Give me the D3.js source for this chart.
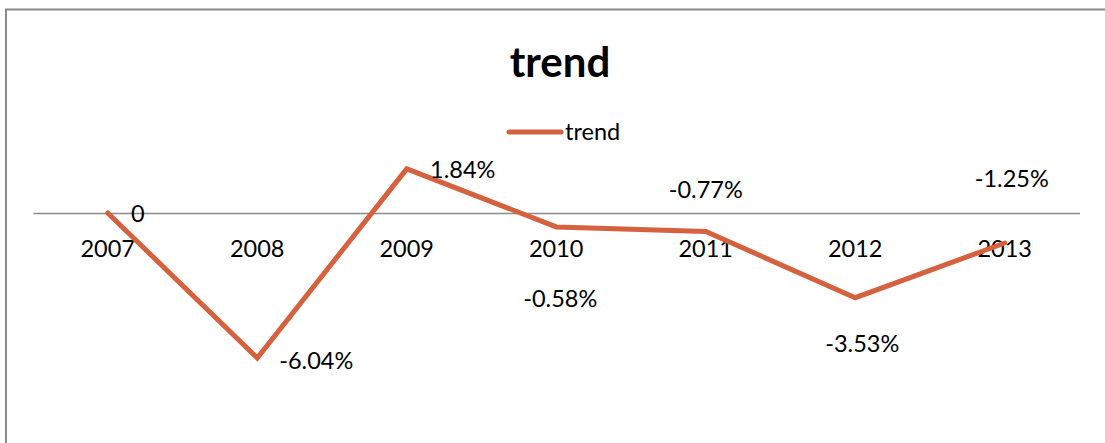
<!DOCTYPE html>
<html>
<head>
<meta charset="utf-8">
<script src="https://cdn.jsdelivr.net/npm/d3@7"></script>
<style>
  html, body { margin: 0; padding: 0; background: #fff; }
  svg { display: block; font-family: Lato, "Open Sans", sans-serif; }
</style>
</head>
<body>
<svg id="chart" width="1105" height="443"></svg>
<script>
const categories = ["2007", "2008", "2009", "2010", "2011", "2012", "2013"];
const values = [0, -6.04, 1.84, -0.58, -0.77, -3.53, -1.25];
const valueLabels = ["0", "-6.04%", "1.84%", "-0.58%", "-0.77%", "-3.53%", "-1.25%"];
const seriesName = "trend";
const chartTitle = "trend";

// label offsets (styling, relative to each point)
const labelOffsets = [[30, 1], [59, 3], [56, 1], [4, 72], [0, -42], [7, 46], [7, -64]];

const svg = d3.select("#chart");
const W = 1105, H = 443;
const color = "#D5613F";
const fs = 23.5;

// outer border
svg.append("rect")
  .attr("x", 6).attr("y", 9.5).attr("width", W + 20).attr("height", H + 20)
  .attr("fill", "none").attr("stroke", "#8a8a8a").attr("stroke-width", 2);

const x = d3.scaleBand().domain(categories).range([33, 1079.5]);
const y = d3.scaleLinear().domain([-8, 2]).range([213 + 8 * 24, 213 - 2 * 24]);

// title
svg.append("text")
  .attr("x", 560).attr("y", 77)
  .attr("text-anchor", "middle")
  .attr("font-weight", "bold").attr("font-size", 42)
  .attr("fill", "#000")
  .text(chartTitle);

// legend
svg.append("line")
  .attr("x1", 509).attr("x2", 561).attr("y1", 132).attr("y2", 132)
  .attr("stroke", color).attr("stroke-width", 5).attr("stroke-linecap", "round");
svg.append("text")
  .attr("x", 565).attr("y", 132).attr("dy", "0.35em")
  .attr("font-size", fs).attr("fill", "#000")
  .text(seriesName);

// x axis at zero
const axis = d3.axisBottom(x).tickSize(0).tickPadding(27);
const gAxis = svg.append("g").attr("transform", `translate(0,${y(0)})`).call(axis);
gAxis.select(".domain").attr("stroke", "#8a8a8a").attr("stroke-width", 1.5);
gAxis.selectAll("text").attr("font-size", fs).attr("fill", "#000")
  .attr("font-family", "Lato, 'Open Sans', sans-serif");

// line
const cx = d => x(d) + x.bandwidth() / 2;
const line = d3.line()
  .x((d, i) => cx(categories[i]))
  .y(d => y(d));
svg.append("path")
  .datum(values)
  .attr("d", line)
  .attr("fill", "none")
  .attr("stroke", color)
  .attr("stroke-width", 5)
  .attr("stroke-linejoin", "miter")
  .attr("stroke-linecap", "round");

// data labels
svg.append("g").selectAll("text")
  .data(values)
  .join("text")
  .attr("x", (d, i) => cx(categories[i]) + labelOffsets[i][0])
  .attr("y", (d, i) => y(d) + labelOffsets[i][1])
  .attr("dy", "0.35em")
  .attr("text-anchor", "middle")
  .attr("font-size", fs)
  .attr("fill", "#000")
  .text((d, i) => valueLabels[i]);
</script>
</body>
</html>
